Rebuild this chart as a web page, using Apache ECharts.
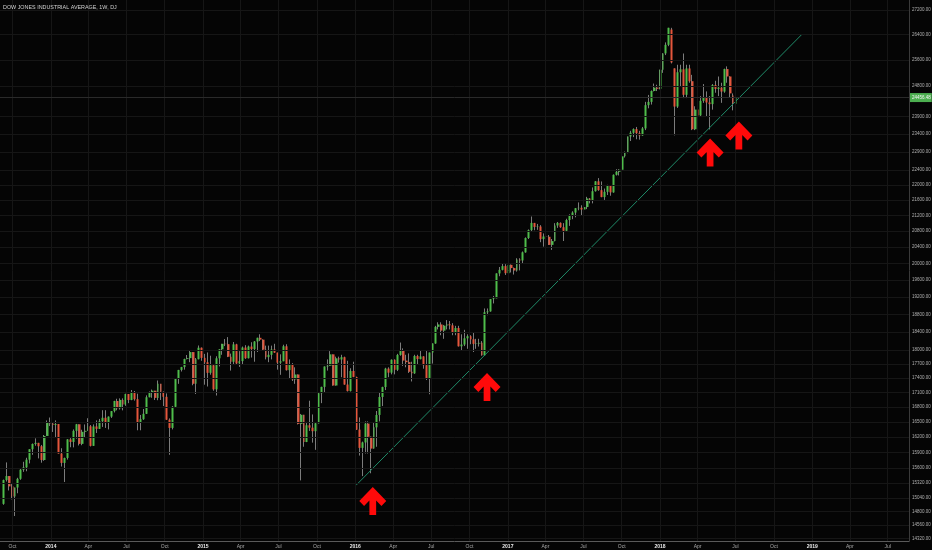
<!DOCTYPE html>
<html><head><meta charset="utf-8">
<script src="https://cdn.jsdelivr.net/npm/echarts@6/dist/echarts.min.js"></script>
<style>html,body{margin:0;padding:0;background:#050505;}#c{width:932px;height:550px;}</style>
</head><body><div id="c"></div>
<script>
// Weekly candles, first week starting Monday 2013-09-09
const firstWeek = [2013, 8, 9];
const opens = [
  14938,15376,15451,15258,15072,15237,15399,15570,15615,15761,15962,16064,16086,16020,15755,16221,16478,
  16470,16437,16458,15879, 15699,15794,16154,16103, 16322,16453,16066,16303,16323, 16413,16027,16409,16361, 16513,16583,16491,16606, 16717,16924,16776,16947,16852, 17068,16944,17100,16961, 16493,16554,16663,17001, 17098,17137,16988,17280,17113, 17010,16544,16380,16805, 17391,17574,17635,17810, 17828,17959,17281,17805,18054,
  17833,17737,17512,17673, 17165,17824,18019,18140, 18133,17857,17749,18128,17713, 17763,18058,17826,18080, 18024,18191,18273,18232, 18011,17849,17899,18016,17947, 17730,17760,18086,17569, 17690,17373,17477,16460,16643, 16102,16433,16385,16315, 16472,17084,17216,17647, 17664,17910,17245,17824,17798, 17848,17265,17129,17552,
  17425,16346,15988,16094, 16466,16205,15974,16392,16640, 17007,17213,17602,17516, 17793,17577,17897,18004, 17774,17741,17535,17501,17873, 17807,17865,17675,17401, 17949,18147,18517,18571, 18432,18544,18576,18552,18395, 18492,18085,18124,18261, 18308,18240,18138,18146,18161, 17888,18848,18868,19152, 19170,19757,19843,19934,
  19763,19964,19886,19827,20094, 20071,20269,20624,20822, 21006,20903,20915,20597, 20663,20656,20453,20548, 20941,21007,20897,20805,21080, 21206,21272,21384,21395, 21350,21414,21638,21580,21830, 22093,21858,21675,21814, 21988,21798,22268,22350, 22405,22774,22872,23329,23434, 23539,23422,23358,23558, 24232,24329,24652,24754,
  24719,25296,25803,26072,26560, 25338,24191,25219,25310, 24538,25336,24947,23533, 24103,23933,24360,24463,24311, 24263,24831,24715,24753, 24635,25317,25090,24520, 24271
];
const highs = [
  15385,15709,15451,15301,15237,15418,15600,15721,15798,15962,16074,16174,16086,16045,16240,16529,16588,
  16495,16530,16458,15981, 15800,16160,16180,16350, 16460,16453,16344,16450,16574, 16438,16450,16530,16560, 16736,16736,16610,16720, 16928,16970,16978,16978,17075, 17068,17151,17130,17075, 16640,16760,17040,17120, 17160,17137,17350,17280,17120, 17080,16570,16820,17395, 17575,17640,17815,17895, 17990,17960,17830,18103,18060,
  17920,17951,17880,17700, 17868,18020,18140,18245, 18288,17925,18180,18140,17980, 18080,18110,18100,18175, 18200,18275,18351,18240, 18100,18100,18100,18140,17947, 17910,18120,18130,17800, 17720,17630,17480,16660,16643, 16500,16930,16650,16490, 17100,17220,17650,17800, 17980,17910,17860,17860,17900, 17860,17770,17610,17750,
  17430,16590,16110,16510, 16510,16210,16480,16720,17100, 17220,17620,17630,17800, 17800,17920,18168,18040, 17900,17930,17750,17900,17900, 18000,17870,18000,17950, 18150,18540,18620,18620, 18560,18670,18650,18600,18540, 18540,18350,18450,18350, 18330,18400,18250,18250,18200, 18935,18935,19152,19225, 19760,19912,19987,19980,
  19999,19973,19900,20125,20125, 20290,20640,20840,21170, 21006,20980,20950,20740, 20890,20700,20600,21000, 21030,21020,21000,21112,21225, 21305,21390,21535,21460, 21560,21681,21650,21930,22100, 22180,22090,21900,22000, 21990,22280,22420,22420, 22790,22905,23330,23490,23560, 23600,23490,23600,24330, 24535,24670,24876,24840,
  25300,25810,26150,26617,26616, 25338,25450,25450,25800, 25450,25450,25140,24200, 24440,24500,24860,24640,24500, 24860,24960,25090,24900, 25330,25400,25100,24580, 24490
];
const lows = [
  14922,15348,15183,15020,14719,15132,15380,15530,15541,15690,15855,16030,15785,15703,15739,16221,16417,
  16300,16196,15879,15630, 15340,15762,16000,15998, 16168,16035,16040,16200,16321, 16015,16027,16280,16361, 16400,16380,16350,16580, 16690,16734,16749,16733,16825, 16880,16940,16932,16333, 16333,16540,16660,17000, 16990,16945,16940,16945,16820, 16540,15855,16350,16780, 17280,17540,17580,17800, 17740,17250,17068,17800,17770,
  17262,17224,17472,17136, 17037,17650,17900,18090, 17850,17560,17690,17700,17640, 17690,17810,17820,17840, 17750,17960,18200,17990, 17800,17740,17800,17940,17580, 17470,17760,17560,17400, 17340,17280,16450,15370,16010, 16100,16320,16090,15950, 16470,16880,17100,17560, 17660,17240,17240,17730,17420, 17260,17120,17120,17420,
  16340,15840,15450,15880, 15880,15503,15970,16010,16510, 16820,17150,17420,17480, 17480,17550,17880,17660, 17630,17510,17330,17490,17690, 17800,17600,17360,17063, 17710,18140,18460,18330, 18250,18460,18460,18330,18330, 18080,17990,18090,18030, 18130,17960,18030,18080,17880, 17880,18780,18860,19050, 19170,19690,19830,19720,
  19760,19780,19730,19800,19830, 20000,20260,20600,20800, 20820,20830,20520,20410, 20590,20450,20330,20540, 20880,20880,20550,20800,20930, 21100,21150,21330,21200, 21280,21360,21510,21510,21820, 21840,21670,21600,21730, 21710,21790,22250,22250, 22400,22740,22860,23200,23310, 23250,23240,23350,23510, 24140,24250,24640,24650,
  24700,25200,25750,26030,25490, 23360,24150,24780,24440, 24440,24900,23510,23510, 23344,23900,24300,23900,23530, 24100,24600,24500,24300, 24600,24900,24470,24080, 24085
];
const closes = [
  15376,15451,15258,15072,15237,15399,15570,15615,15761,15962,16064,16086,16020,15755,16221,16478,16470,
  16437,16458,15879,15699, 15794,16154,16103,16322, 16453,16066,16303,16323,16413, 16027,16409,16361,16513, 16583,16491,16606,16717, 16924,16776,16947,16852,17068, 16944,17100,16961,16493, 16554,16663,17001,17098, 17137,16988,17280,17113,17010, 16544,16380,16805,17391, 17574,17635,17810,17828, 17959,17281,17805,18054,17833,
  17737,17512,17673,17165, 17824,18019,18140,18133, 17857,17749,18128,17713,17763, 18058,17826,18080,18024, 18191,18273,18232,18011, 17849,17899,18016,17947,17730, 17760,18086,17569,17690, 17373,17477,16460,16643,16102, 16433,16385,16315,16472, 17084,17216,17647,17664, 17910,17245,17824,17798,17848, 17265,17129,17552,17425,
  16346,15988,16094,16466, 16205,15974,16392,16640,17007, 17213,17602,17516,17793, 17577,17897,18004,17774, 17741,17535,17501,17873,17807, 17865,17675,17401,17949, 18147,18517,18571,18432, 18544,18576,18552,18395,18492, 18085,18124,18261,18308, 18240,18138,18146,18161,17888, 18848,18868,19152,19170, 19757,19843,19934,19763,
  19964,19886,19827,20094,20071, 20269,20624,20822,21006, 20903,20915,20597,20663, 20656,20453,20548,20941, 21007,20897,20805,21080,21206, 21272,21384,21395,21350, 21414,21638,21580,21830,22093, 21858,21675,21814,21988, 21798,22268,22350,22405, 22774,22872,23329,23434,23539, 23422,23358,23558,24232, 24329,24652,24754,24719,
  25296,25803,26072,26617,25521, 24191,25219,25310,24538, 25336,24947,23533,24103, 23933,24360,24463,24311,24263, 24831,24715,24753,24635, 25317,25090,24581,24271, 24456.48
];
const yTicks = [27200,26400,25600,24800,23900,23400,22900,22400,22000,21600,21200,20800,20400,20000,19600,19200,18800,18400,18000,17700,17400,17100,16800,16500,16200,15900,15600,15320,15040,14800,14560,14320];
const xTicks = ['2013-10-01','2014-01-01','2014-04-01','2014-07-01','2014-10-01','2015-01-01','2015-04-01','2015-07-01','2015-10-01','2016-01-01','2016-04-01','2016-07-01','2016-10-01','2017-01-01','2017-04-01','2017-07-01','2017-10-01','2018-01-01','2018-04-01','2018-07-01','2018-10-01','2019-01-01','2019-04-01','2019-07-01'];
const monthNames = ['Jan','Feb','Mar','Apr','May','Jun','Jul','Aug','Sep','Oct','Nov','Dec'];
const trendLine = [['2016-01-03', 15280], ['2018-12-06', 26390]];
const arrows = [['2016-02-12', 14990], ['2016-11-12', 17215], ['2018-05-01', 22880], ['2018-07-09', 23358]];
const lastClose = 24456.48;
const titleText = 'DOW JONES INDUSTRIAL AVERAGE, 1W, DJ';

function ts(s) { const p = s.split('-').map(Number); return new Date(p[0], p[1] - 1, p[2]).getTime(); }
const weeks = closes.map((_, i) => new Date(firstWeek[0], firstWeek[1], firstWeek[2] + 7 * i).getTime());
const fullData = weeks.map((t, i) => [t, opens[i], closes[i], lows[i], highs[i]]);
const bodyData = weeks.map((t, i) => [t, opens[i], closes[i], Math.min(opens[i], closes[i]), Math.max(opens[i], closes[i])]);
const xTickTs = xTicks.map(ts);

const UP = '#4fbd4b', DOWN = '#e4563c', WICK = '#7c7c7c', GRID = '#161616';
const FONT = 'Liberation Sans, Arial, sans-serif';
const chart = echarts.init(document.getElementById('c'), null, {renderer: 'canvas'});
chart.setOption({
  backgroundColor: '#050505',
  animation: false,
  title: {text: titleText, left: 3, top: 5, padding: 0, textStyle: {color: '#d2d2d2', fontSize: 5.4, fontWeight: 'normal', fontFamily: FONT}},
  grid: {left: 0, right: 23, top: 0, bottom: 9, containLabel: false, outerBoundsMode: 'none'},
  xAxis: {
    type: 'value', min: ts('2013-09-01'), max: ts('2019-08-21'), scale: true,
    axisLine: {show: true, lineStyle: {color: '#5a5a5a', width: 1}},
    axisTick: {show: false},
    splitLine: {show: false},
    axisLabel: {
      customValues: xTickTs, margin: 3, color: '#a8a8a8', fontSize: 5, fontFamily: FONT,
      formatter: function (v) { const d = new Date(v); const m = d.getMonth(); return m === 0 ? '{y|' + d.getFullYear() + '}' : monthNames[m]; },
      rich: {y: {color: '#ececec', fontSize: 5, fontWeight: 'bold', fontFamily: FONT}}
    }
  },
  yAxis: {
    type: 'log', logBase: 10, position: 'right', min: 14280, max: 27530,
    axisLine: {show: true, lineStyle: {color: '#3a3a3a', width: 1}},
    axisTick: {show: false},
    splitLine: {show: false},
    axisLabel: {customValues: yTicks, margin: 3, color: '#b0b0b0', fontSize: 4.5, fontFamily: FONT,
      formatter: function (v) { return Number(v).toFixed(2); }}
  },
  series: [
    {type: 'line', data: [], silent: true, z: 0,
      markLine: {silent: true, symbol: 'none', animation: false, label: {show: false}, lineStyle: {color: GRID, width: 1, type: 'solid'},
        data: yTicks.map(v => ({yAxis: v})).concat(xTickTs.map(t => ({xAxis: t})))}},
    {type: 'candlestick', data: fullData, encode: {x: 0, y: [1, 2, 3, 4]}, barWidth: 1, silent: true, z: 2,
      itemStyle: {color: WICK, color0: WICK, borderColor: WICK, borderColor0: WICK, borderWidth: 1}},
    {type: 'candlestick', data: bodyData, encode: {x: 0, y: [1, 2, 3, 4]}, barWidth: 2.4, silent: true, z: 3,
      itemStyle: {color: UP, color0: DOWN, borderColor: UP, borderColor0: DOWN, borderWidth: 0},
      markLine: {silent: true, symbol: 'none', animation: false, data: [{yAxis: lastClose}],
        lineStyle: {color: '#2a2a2a', width: 1, type: 'solid'},
        label: {show: true, position: 'end', distance: 1, formatter: function () { return lastClose.toFixed(2); },
          backgroundColor: '#4caf50', color: '#f4f4f4', fontSize: 4.5, padding: [2, 1, 2, 2], fontFamily: FONT}}},
    {type: 'line', data: trendLine.map(p => [ts(p[0]), p[1]]), symbol: 'none', silent: true, z: 4,
      lineStyle: {color: '#1f8a68', width: 1}},
    {type: 'scatter', data: arrows.map(p => [ts(p[0]), p[1]]), silent: true, z: 5,
      symbol: 'path://M14,0 L28,14 L23,19 L17.5,13.5 L17.5,28 L10.5,28 L10.5,13.5 L5,19 L0,14 Z',
      symbolSize: [27, 28], itemStyle: {color: '#ff0a0a', opacity: 1}}
  ]
});
</script></body></html>
